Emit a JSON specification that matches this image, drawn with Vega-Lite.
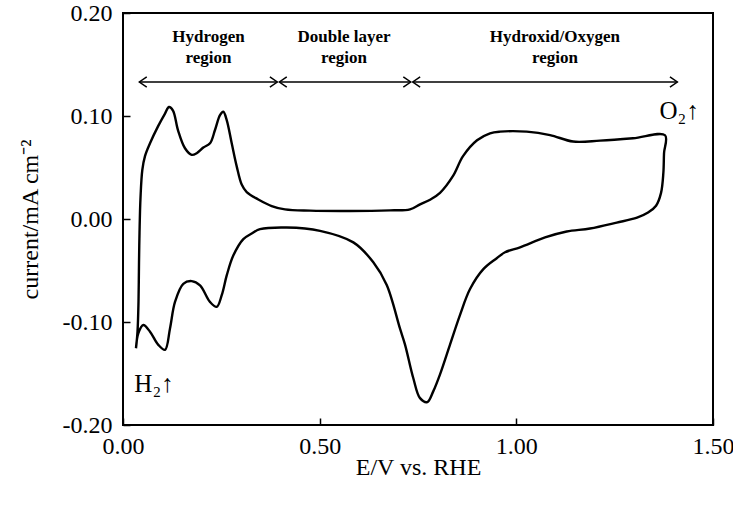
{
  "$schema": "https://vega.github.io/schema/vega-lite/v6.json",
  "width": 590,
  "height": 412,
  "autosize": {"type": "none"},
  "padding": {"left": 123, "top": 13, "right": 20, "bottom": 81},
  "background": "white",
  "config": {
    "view": {"stroke": "black", "strokeWidth": 2},
    "font": "Liberation Serif",
    "axis": {
      "grid": false,
      "domain": false,
      "ticks": true,
      "tickColor": "black",
      "tickWidth": 1.5,
      "tickSize": 7,
      "offset": -7,
      "labelFlush": false,
      "labelOverlap": false,
      "labelFont": "Liberation Serif",
      "labelFontSize": 24,
      "labelColor": "black",
      "titleFont": "Liberation Serif",
      "titleFontSize": 24,
      "titleFontWeight": "normal",
      "titleColor": "black"
    }
  },
  "datasets": {
    "cv": [
      {"i": 1, "E": 0.0330, "I": -0.1257},
      {"i": 2, "E": 0.0369, "I": -0.1094},
      {"i": 3, "E": 0.0394, "I": -0.0805},
      {"i": 4, "E": 0.0407, "I": -0.0420},
      {"i": 5, "E": 0.0420, "I": -0.0131},
      {"i": 6, "E": 0.0445, "I": 0.0206},
      {"i": 7, "E": 0.0491, "I": 0.0476},
      {"i": 8, "E": 0.0559, "I": 0.0610},
      {"i": 9, "E": 0.0687, "I": 0.0735},
      {"i": 10, "E": 0.0890, "I": 0.0899},
      {"i": 11, "E": 0.1068, "I": 0.1024},
      {"i": 12, "E": 0.1170, "I": 0.1087},
      {"i": 13, "E": 0.1271, "I": 0.1053},
      {"i": 14, "E": 0.1399, "I": 0.0861},
      {"i": 15, "E": 0.1576, "I": 0.0687},
      {"i": 16, "E": 0.1747, "I": 0.0623},
      {"i": 17, "E": 0.1874, "I": 0.0639},
      {"i": 18, "E": 0.2042, "I": 0.0694},
      {"i": 19, "E": 0.2212, "I": 0.0735},
      {"i": 20, "E": 0.2339, "I": 0.0864},
      {"i": 21, "E": 0.2466, "I": 0.1008},
      {"i": 22, "E": 0.2550, "I": 0.1041},
      {"i": 23, "E": 0.2637, "I": 0.0960},
      {"i": 24, "E": 0.2764, "I": 0.0735},
      {"i": 25, "E": 0.2891, "I": 0.0511},
      {"i": 26, "E": 0.3018, "I": 0.0334},
      {"i": 27, "E": 0.3145, "I": 0.0261},
      {"i": 28, "E": 0.3440, "I": 0.0190},
      {"i": 29, "E": 0.3781, "I": 0.0126},
      {"i": 30, "E": 0.4119, "I": 0.0093},
      {"i": 31, "E": 0.4755, "I": 0.0081},
      {"i": 32, "E": 0.5772, "I": 0.0078},
      {"i": 33, "E": 0.6789, "I": 0.0084},
      {"i": 34, "E": 0.7297, "I": 0.0093},
      {"i": 35, "E": 0.7552, "I": 0.0142},
      {"i": 36, "E": 0.7806, "I": 0.0187},
      {"i": 37, "E": 0.8060, "I": 0.0254},
      {"i": 38, "E": 0.8391, "I": 0.0418},
      {"i": 39, "E": 0.8645, "I": 0.0610},
      {"i": 40, "E": 0.9001, "I": 0.0764},
      {"i": 41, "E": 0.9331, "I": 0.0832},
      {"i": 42, "E": 0.9586, "I": 0.0848},
      {"i": 43, "E": 1.0264, "I": 0.0848},
      {"i": 44, "E": 1.0857, "I": 0.0815},
      {"i": 45, "E": 1.1442, "I": 0.0752},
      {"i": 46, "E": 1.2128, "I": 0.0761},
      {"i": 47, "E": 1.2967, "I": 0.0784},
      {"i": 48, "E": 1.3781, "I": 0.0813},
      {"i": 49, "E": 1.3755, "I": 0.0639},
      {"i": 50, "E": 1.3738, "I": 0.0447},
      {"i": 51, "E": 1.3679, "I": 0.0254},
      {"i": 52, "E": 1.3552, "I": 0.0129},
      {"i": 53, "E": 1.3349, "I": 0.0062},
      {"i": 54, "E": 1.3069, "I": 0.0013},
      {"i": 55, "E": 1.2553, "I": -0.0035},
      {"i": 56, "E": 1.1874, "I": -0.0092},
      {"i": 57, "E": 1.1281, "I": -0.0121},
      {"i": 58, "E": 1.0730, "I": -0.0179},
      {"i": 59, "E": 1.0094, "I": -0.0275},
      {"i": 60, "E": 0.9713, "I": -0.0323},
      {"i": 61, "E": 0.9502, "I": -0.0381},
      {"i": 62, "E": 0.9161, "I": -0.0487},
      {"i": 63, "E": 0.8823, "I": -0.0680},
      {"i": 64, "E": 0.8569, "I": -0.0930},
      {"i": 65, "E": 0.8314, "I": -0.1219},
      {"i": 66, "E": 0.8060, "I": -0.1508},
      {"i": 67, "E": 0.7890, "I": -0.1671},
      {"i": 68, "E": 0.7737, "I": -0.1777},
      {"i": 69, "E": 0.7552, "I": -0.1739},
      {"i": 70, "E": 0.7381, "I": -0.1546},
      {"i": 71, "E": 0.7170, "I": -0.1219},
      {"i": 72, "E": 0.7043, "I": -0.1065},
      {"i": 73, "E": 0.6705, "I": -0.0641},
      {"i": 74, "E": 0.6364, "I": -0.0420},
      {"i": 75, "E": 0.5856, "I": -0.0227},
      {"i": 76, "E": 0.5009, "I": -0.0115},
      {"i": 77, "E": 0.4162, "I": -0.0083},
      {"i": 78, "E": 0.3483, "I": -0.0099},
      {"i": 79, "E": 0.3272, "I": -0.0141},
      {"i": 80, "E": 0.3059, "I": -0.0195},
      {"i": 81, "E": 0.2804, "I": -0.0355},
      {"i": 82, "E": 0.2637, "I": -0.0548},
      {"i": 83, "E": 0.2510, "I": -0.0740},
      {"i": 84, "E": 0.2382, "I": -0.0853},
      {"i": 85, "E": 0.2212, "I": -0.0805},
      {"i": 86, "E": 0.1958, "I": -0.0644},
      {"i": 87, "E": 0.1747, "I": -0.0603},
      {"i": 88, "E": 0.1533, "I": -0.0629},
      {"i": 89, "E": 0.1322, "I": -0.0805},
      {"i": 90, "E": 0.1195, "I": -0.1062},
      {"i": 91, "E": 0.1068, "I": -0.1270},
      {"i": 92, "E": 0.0898, "I": -0.1222},
      {"i": 93, "E": 0.0687, "I": -0.1094},
      {"i": 94, "E": 0.0516, "I": -0.1029},
      {"i": 95, "E": 0.0389, "I": -0.1110},
      {"i": 96, "E": 0.0330, "I": -0.1254}
    ],
    "arrows": [
      {"region": "Hydrogen", "E1": 0.0415, "E2": 0.3923, "I": 0.133},
      {"region": "Double layer", "E1": 0.3975, "E2": 0.7315, "I": 0.133},
      {"region": "Hydroxid/Oxygen", "E1": 0.7366, "E2": 1.4094, "I": 0.133}
    ],
    "heads": [
      {"E": 0.0415, "I": 0.133, "dir": "left"},
      {"E": 0.3923, "I": 0.133, "dir": "right"},
      {"E": 0.3975, "I": 0.133, "dir": "left"},
      {"E": 0.7315, "I": 0.133, "dir": "right"},
      {"E": 0.7366, "I": 0.133, "dir": "left"},
      {"E": 1.4094, "I": 0.133, "dir": "right"}
    ],
    "regions": [
      {"E": 0.2174, "I": 0.1770, "label": "Hydrogen\nregion"},
      {"E": 0.5620, "I": 0.1770, "label": "Double layer\nregion"},
      {"E": 1.0980, "I": 0.1770, "label": "Hydroxid/Oxygen\nregion"}
    ],
    "gases": [
      {"E": 1.4140, "I": 0.1053, "label": "O₂↑"},
      {"E": 0.0788, "I": -0.1604, "label": "H₂↑"}
    ]
  },
  "encoding": {
    "x": {
      "type": "quantitative",
      "scale": {"domain": [0, 1.5], "nice": false, "zero": false},
      "axis": {
        "title": "E/V vs. RHE",
        "values": [0, 0.5, 1.0, 1.5],
        "format": ".2f",
        "labelPadding": 9,
        "titlePadding": -3
      }
    },
    "y": {
      "type": "quantitative",
      "scale": {"domain": [-0.2, 0.2], "nice": false, "zero": false},
      "axis": {
        "title": "current/mA cm⁻²",
        "values": [-0.2, -0.1, 0, 0.1, 0.2],
        "format": ".2f",
        "labelExpr": "replace(datum.label, '−', '-')",
        "labelPadding": 11,
        "titlePadding": 20
      }
    }
  },
  "layer": [
    {
      "data": {"name": "cv"},
      "mark": {"type": "line", "color": "black", "strokeWidth": 2.4, "interpolate": "catmull-rom", "clip": true},
      "encoding": {
        "x": {"field": "E", "type": "quantitative"},
        "y": {"field": "I", "type": "quantitative"},
        "order": {"field": "i", "type": "quantitative"}
      }
    },
    {
      "data": {"name": "arrows"},
      "mark": {"type": "rule", "color": "black", "strokeWidth": 1.5},
      "encoding": {
        "x": {"field": "E1", "type": "quantitative"},
        "x2": {"field": "E2"},
        "y": {"field": "I", "type": "quantitative"}
      }
    },
    {
      "data": {"name": "heads"},
      "mark": {"type": "point", "filled": false, "color": "black", "strokeWidth": 1.5, "size": 220, "opacity": 1},
      "encoding": {
        "x": {"field": "E", "type": "quantitative"},
        "y": {"field": "I", "type": "quantitative"},
        "shape": {
          "field": "dir",
          "type": "nominal",
          "scale": {"domain": ["left", "right"], "range": ["M1,-0.7L0,0L1,0.7", "M-1,-0.7L0,0L-1,0.7"]},
          "legend": null
        }
      }
    },
    {
      "data": {"name": "regions"},
      "mark": {"type": "text", "font": "Liberation Serif", "fontWeight": "bold", "fontSize": 17, "lineBreak": "\n", "lineHeight": 21, "align": "center", "baseline": "middle", "color": "black"},
      "encoding": {
        "x": {"field": "E", "type": "quantitative"},
        "y": {"field": "I", "type": "quantitative"},
        "text": {"field": "label"}
      }
    },
    {
      "data": {"name": "gases"},
      "mark": {"type": "text", "font": "Liberation Serif", "fontSize": 25, "align": "center", "baseline": "middle", "color": "black"},
      "encoding": {
        "x": {"field": "E", "type": "quantitative"},
        "y": {"field": "I", "type": "quantitative"},
        "text": {"field": "label"}
      }
    }
  ]
}
